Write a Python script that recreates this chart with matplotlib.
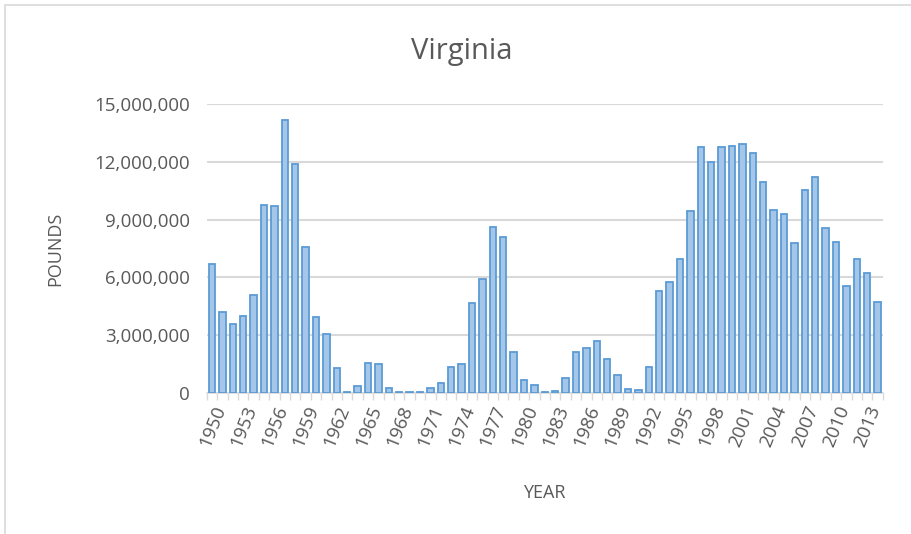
import numpy as np
import matplotlib
matplotlib.use('Agg')
import matplotlib.pyplot as plt
from matplotlib.patches import Rectangle

# ── DATA ────────────────────────────────────────────
years = list(range(1950, 2015))
pounds = [
    6.7, 4.2, 3.6, 4.0, 5.1, 9.75, 9.7, 14.2, 11.9, 7.6,
    3.95, 3.05, 1.3, 0.05, 0.35, 1.55, 1.5, 0.25, 0.05, 0.05,
    0.05, 0.25, 0.5, 1.35, 1.5, 4.7, 5.9, 8.6, 8.1, 2.15,
    0.7, 0.4, 0.05, 0.1, 0.8, 2.15, 2.35, 2.7, 1.75, 0.95,
    0.2, 0.15, 1.35, 5.3, 5.75, 6.95, 9.45, 12.8, 12.0, 12.8,
    12.85, 12.95, 12.45, 10.95, 9.5, 9.3, 7.8, 10.55, 11.2, 8.55,
    7.85, 5.55, 6.95, 6.25, 4.75,
]
pounds = [p * 1e6 for p in pounds]
y_ticks = [0, 3e6, 6e6, 9e6, 12e6, 15e6]

GRAY = '#595959'
FONT = ['Open Sans', 'DejaVu Sans']

fig = plt.figure(figsize=(9.11, 5.34), dpi=100)
plt.rcParams['font.family'] = FONT

# chart border like the Excel chart area
fig.patches.append(Rectangle((0.005, -0.02), 1.2, 1.01, transform=fig.transFigure,
                             fill=False, edgecolor='#D9D9D9', linewidth=1.2))

ax = fig.add_axes([0.227, 0.264, 0.742, 0.541])
x = np.arange(len(years))
ax.bar(x, pounds, width=0.62, color='#A4C6E8', edgecolor='#5B9BD5',
       linewidth=1.3, zorder=3)

ax.set_xlim(-0.5, len(years) - 0.5)
ax.set_ylim(0, 15e6)
ax.set_yticks(y_ticks)
ax.set_yticklabels([f'{int(v):,}' for v in y_ticks])
ax.yaxis.grid(True, color='#D9D9D9', linewidth=1.5, zorder=0)
ax.tick_params(axis='y', length=0, pad=12, labelsize=13.5, labelcolor=GRAY)

# labels every 3rd year, tick marks between categories
ax.set_xticks(x[::3])
ax.set_xticklabels([str(y) for y in years[::3]], rotation=68, ha='right',
                   rotation_mode='anchor', fontsize=13.5, color=GRAY)
ax.tick_params(axis='x', which='major', length=0, pad=7)
ax.set_xticks(np.arange(-0.5, len(years), 1), minor=True)
ax.tick_params(axis='x', which='minor', length=5, color='#D9D9D9', width=1)

for s in ['top', 'right', 'left']:
    ax.spines[s].set_visible(False)
ax.spines['bottom'].set_color('#D9D9D9')
ax.spines['bottom'].set_linewidth(1.2)

ax.set_ylabel('POUNDS', fontsize=13, color=GRAY, labelpad=22)
ax.set_xlabel('YEAR', fontsize=13, color=GRAY, labelpad=25)
fig.text(0.507, 0.903, 'Virginia', ha='center', va='center', fontsize=21, color=GRAY)

plt.savefig('out.png', dpi=100)
